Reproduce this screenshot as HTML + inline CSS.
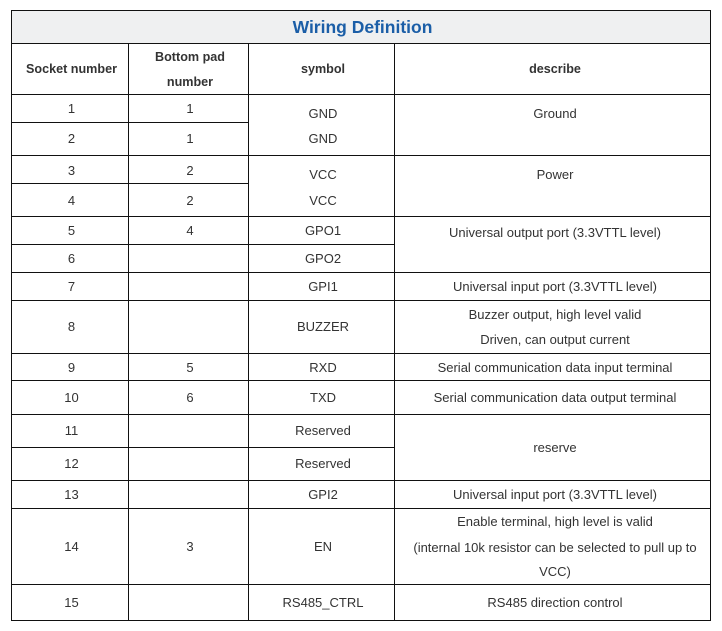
<!DOCTYPE html>
<html>
<head>
<meta charset="utf-8">
<style>
html,body{margin:0;padding:0;background:#fff;}
body{width:722px;height:631px;position:relative;overflow:hidden;font-family:"Liberation Sans","Noto Sans CJK SC",sans-serif;color:#333;}
.h{position:absolute;height:1px;background:#111;}
.v{position:absolute;width:1px;background:#111;}
.t{position:absolute;text-align:center;font-size:13px;line-height:20px;height:20px;white-space:nowrap;margin-top:1px;}
.b{font-weight:bold;font-size:12.6px;}
.c1{left:13px;width:117px;}
.c2{left:130px;width:120px;}
.c3{left:250px;width:146px;}
.c4{left:397px;width:316px;}
</style>
</head>
<body>
<div style="position:absolute;left:11px;top:10px;width:699px;height:33px;background:#eff0f1;"></div>
<div class="t" style="left:13px;width:699px;top:15px;line-height:22px;height:22px;font-size:17.5px;font-weight:bold;color:#1b5ea7;">Wiring Definition</div>

<!-- horizontal lines -->
<div class="h" style="left:11px;width:700px;top:10px"></div>
<div class="h" style="left:11px;width:700px;top:43px"></div>
<div class="h" style="left:11px;width:700px;top:94px"></div>
<div class="h" style="left:11px;width:237px;top:122px"></div>
<div class="h" style="left:11px;width:700px;top:155px"></div>
<div class="h" style="left:11px;width:237px;top:183px"></div>
<div class="h" style="left:11px;width:700px;top:216px"></div>
<div class="h" style="left:11px;width:383px;top:244px"></div>
<div class="h" style="left:11px;width:700px;top:272px"></div>
<div class="h" style="left:11px;width:700px;top:300px"></div>
<div class="h" style="left:11px;width:700px;top:353px"></div>
<div class="h" style="left:11px;width:700px;top:380px"></div>
<div class="h" style="left:11px;width:700px;top:414px"></div>
<div class="h" style="left:11px;width:383px;top:447px"></div>
<div class="h" style="left:11px;width:700px;top:480px"></div>
<div class="h" style="left:11px;width:700px;top:508px"></div>
<div class="h" style="left:11px;width:700px;top:584px"></div>
<div class="h" style="left:11px;width:700px;top:620px"></div>

<!-- vertical lines -->
<div class="v" style="left:11px;top:10px;height:611px"></div>
<div class="v" style="left:710px;top:10px;height:611px"></div>
<div class="v" style="left:128px;top:43px;height:578px"></div>
<div class="v" style="left:248px;top:43px;height:578px"></div>
<div class="v" style="left:394px;top:43px;height:578px"></div>

<!-- header -->
<div class="t b c1" style="top:58px">Socket number</div>
<div class="t b c2" style="top:46px">Bottom pad</div>
<div class="t b c2" style="top:71px">number</div>
<div class="t b c3" style="top:58px">symbol</div>
<div class="t b c4" style="top:58px">describe</div>

<!-- rows -->
<div class="t c1" style="top:98px">1</div>
<div class="t c2" style="top:98px">1</div>
<div class="t c1" style="top:128px">2</div>
<div class="t c2" style="top:128px">1</div>
<div class="t c3" style="top:103px">GND</div>
<div class="t c3" style="top:128px">GND</div>
<div class="t c4" style="top:103px">Ground</div>

<div class="t c1" style="top:160px">3</div>
<div class="t c2" style="top:160px">2</div>
<div class="t c1" style="top:190px">4</div>
<div class="t c2" style="top:190px">2</div>
<div class="t c3" style="top:164px">VCC</div>
<div class="t c3" style="top:190px">VCC</div>
<div class="t c4" style="top:164px">Power</div>

<div class="t c1" style="top:220px">5</div>
<div class="t c2" style="top:220px">4</div>
<div class="t c3" style="top:220px">GPO1</div>
<div class="t c4" style="top:222px">Universal output port (3.3VTTL level)</div>

<div class="t c1" style="top:248px">6</div>
<div class="t c3" style="top:248px">GPO2</div>

<div class="t c1" style="top:276px">7</div>
<div class="t c3" style="top:276px">GPI1</div>
<div class="t c4" style="top:276px">Universal input port (3.3VTTL level)</div>

<div class="t c1" style="top:316px">8</div>
<div class="t c3" style="top:316px">BUZZER</div>
<div class="t c4" style="top:304px">Buzzer output, high level valid</div>
<div class="t c4" style="top:329px">Driven, can output current</div>

<div class="t c1" style="top:357px">9</div>
<div class="t c2" style="top:357px">5</div>
<div class="t c3" style="top:357px">RXD</div>
<div class="t c4" style="top:357px">Serial communication data input terminal</div>

<div class="t c1" style="top:387px">10</div>
<div class="t c2" style="top:387px">6</div>
<div class="t c3" style="top:387px">TXD</div>
<div class="t c4" style="top:387px">Serial communication data output terminal</div>

<div class="t c1" style="top:420px">11</div>
<div class="t c3" style="top:420px">Reserved</div>
<div class="t c1" style="top:453px">12</div>
<div class="t c3" style="top:453px">Reserved</div>
<div class="t c4" style="top:437px">reserve</div>

<div class="t c1" style="top:484px">13</div>
<div class="t c3" style="top:484px">GPI2</div>
<div class="t c4" style="top:484px">Universal input port (3.3VTTL level)</div>

<div class="t c1" style="top:536px">14</div>
<div class="t c2" style="top:536px">3</div>
<div class="t c3" style="top:536px">EN</div>
<div class="t c4" style="top:511px">Enable terminal, high level is valid</div>
<div class="t c4" style="top:537px">(internal 10k resistor can be selected to pull up to</div>
<div class="t c4" style="top:561px">VCC)</div>

<div class="t c1" style="top:592px">15</div>
<div class="t c3" style="top:592px">RS485_CTRL</div>
<div class="t c4" style="top:592px">RS485 direction control</div>
</body>
</html>
